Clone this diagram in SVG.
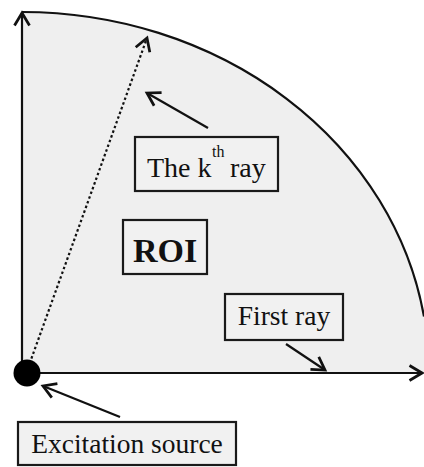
<svg xmlns="http://www.w3.org/2000/svg" width="424" height="467" viewBox="0 0 424 467">
<defs>
<marker id="arr" markerUnits="userSpaceOnUse" markerWidth="20" markerHeight="20" viewBox="-12 -8 14 16" refX="0" refY="0" orient="auto">
<path d="M-10,-6 L0,0 L-10,6" fill="none" stroke="#111" stroke-width="2.2"/>
</marker>
</defs>
<style>
.box{fill:#f1f1f1;stroke:#1a1a1a;stroke-width:2.2}
.t{font-family:"Liberation Serif","Times New Roman",serif;fill:#111}
.ln{stroke:#111;stroke-width:2.2;fill:none}
</style>
<g id="roi-region">
<path d="M22,373 L22,12 A407,361 0 0 1 424,316.6 L424,373 Z" fill="#efefef"/>
<path d="M22,12 A407,361 0 0 1 424,316.6" class="ln"/>
</g>
<g id="connectors">
<line x1="22" y1="373" x2="22" y2="13" class="ln" stroke-width="2.5" marker-end="url(#arr)"/>
<line x1="22" y1="373" x2="422" y2="373" class="ln" stroke-width="2.5" marker-end="url(#arr)"/>
<line x1="28" y1="368" x2="147" y2="38" class="ln" stroke-width="2.5" stroke-dasharray="2.5,2.5" marker-end="url(#arr)"/>
<line x1="208" y1="128" x2="147" y2="93" class="ln" marker-end="url(#arr)"/>
<line x1="286" y1="344" x2="325" y2="370" class="ln" marker-end="url(#arr)"/>
<line x1="120" y1="417" x2="43" y2="386" class="ln" marker-end="url(#arr)"/>
</g>
<g id="source">
<circle cx="27" cy="373" r="13.5" fill="#000"/>
</g>
<g id="kth-ray">
<rect x="135" y="137" width="143" height="54" class="box"/>
<text class="t" x="147" y="177" font-size="28">The k</text>
<text class="t" x="212" y="157" font-size="16">th</text>
<text class="t" x="230" y="177" font-size="28">ray</text>
</g>
<g id="roi">
<rect x="123" y="220" width="84" height="54" class="box"/>
<text class="t" x="165" y="262" font-size="34" font-weight="bold" text-anchor="middle">ROI</text>
</g>
<g id="first-ray">
<rect x="225" y="294" width="118" height="46" class="box"/>
<text class="t" x="284" y="325" font-size="27.5" text-anchor="middle">First ray</text>
</g>
<g id="excitation">
<rect x="18" y="422" width="218" height="43" class="box"/>
<text class="t" x="127" y="453" font-size="27.5" text-anchor="middle">Excitation source</text>
</g>
</svg>
